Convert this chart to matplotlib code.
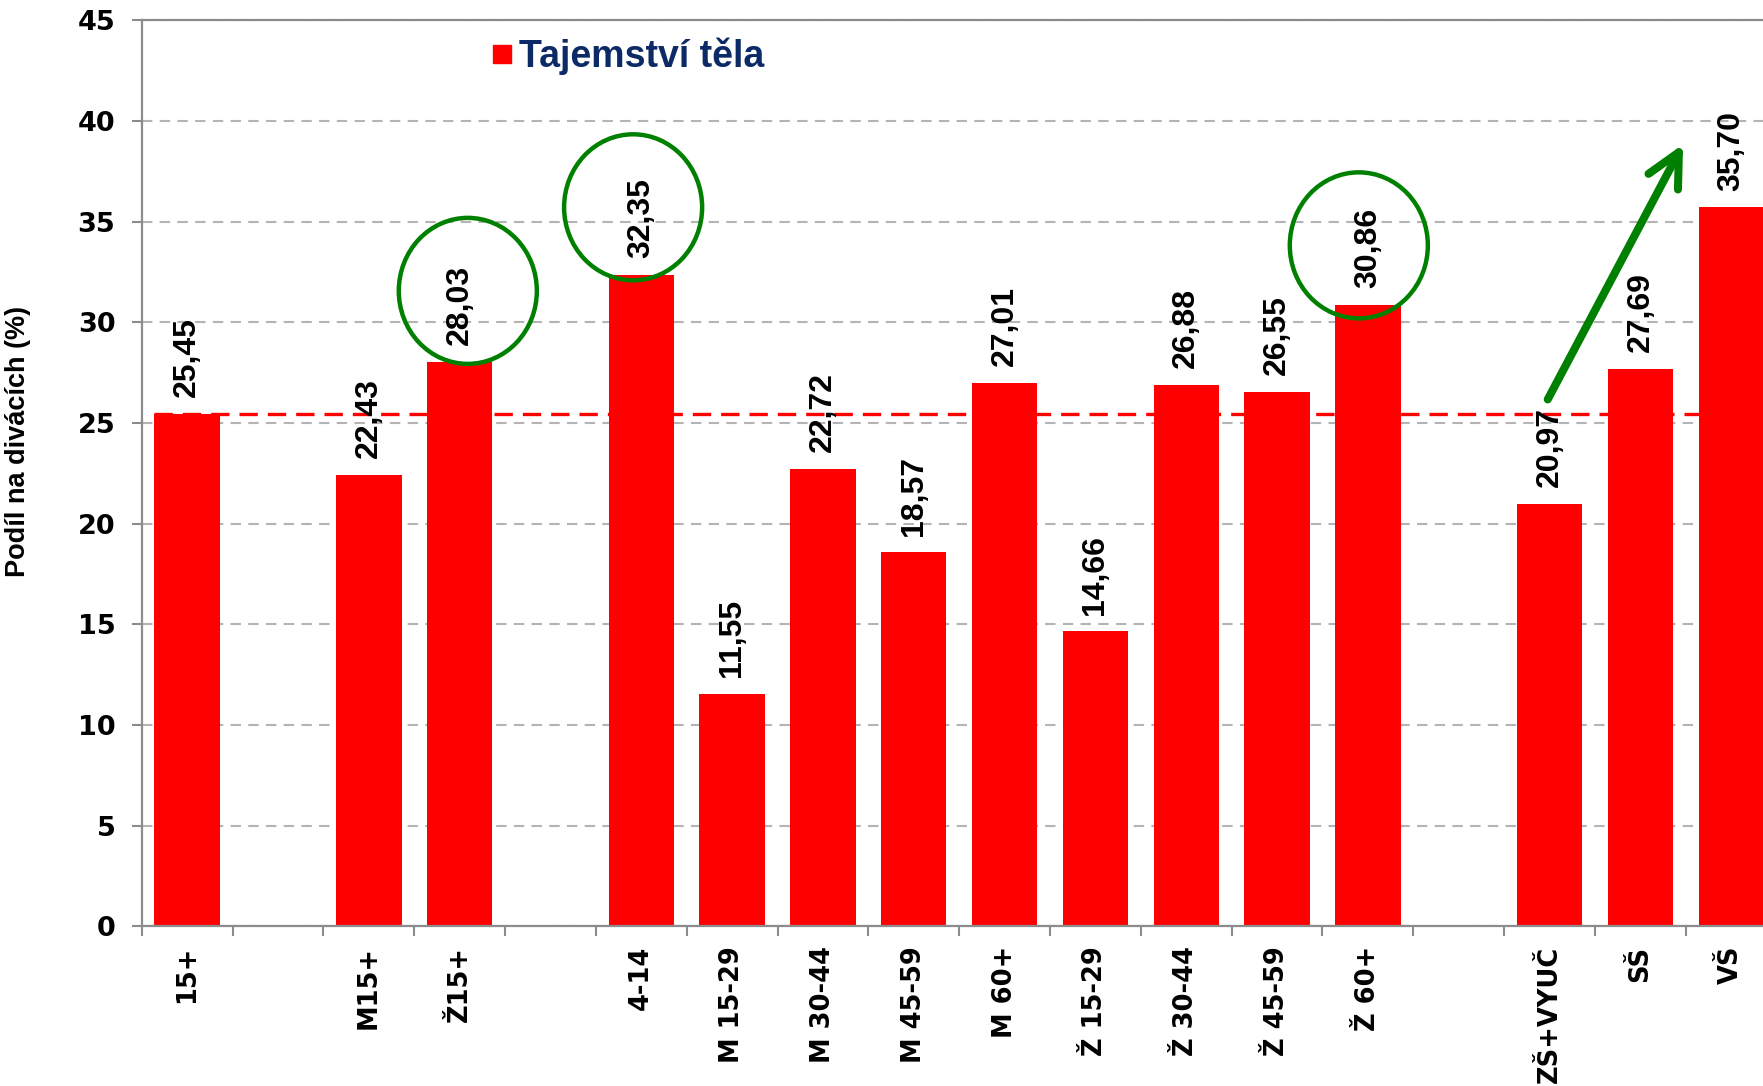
import matplotlib.pyplot as plt
from matplotlib.patches import Ellipse
from matplotlib.lines import Line2D

# -----------------------------
# data
# -----------------------------
categories = ['15+', '', 'M15+', 'Ž15+', '', '4-14', 'M 15-29', 'M 30-44',
              'M 45-59', 'M 60+', 'Ž 15-29', 'Ž 30-44', 'Ž 45-59', 'Ž 60+',
              '', 'ZŠ+VYUČ', 'SŠ', 'VŠ']
values = [25.45, None, 22.43, 28.03, None, 32.35, 11.55, 22.72,
          18.57, 27.01, 14.66, 26.88, 26.55, 30.86,
          None, 20.97, 27.69, 35.70]
series_name = 'Tajemství těla'
reference_value = 25.45          # 15+ level, red dashed line
circled = ['Ž15+', '4-14', 'Ž 60+']
yticks = list(range(0, 50, 5))

# -----------------------------
# figure
# -----------------------------
fig = plt.figure(figsize=(17.63, 10.86), dpi=100)
ax = fig.add_axes([0.0804, 0.1469, 0.9196, 0.8345])

xs = [i for i, v in enumerate(values) if v is not None]
hs = [v for v in values if v is not None]
ax.bar(xs, hs, width=0.72, color='#ff0000', zorder=2, label=series_name)

# grid + spines
ax.set_yticks(yticks)
ax.yaxis.grid(True, color='#b4b4b4', lw=1.5, linestyle=(0, (5, 3.5)), zorder=0)
ax.set_axisbelow(True)
for s in ['left', 'bottom', 'top']:
    ax.spines[s].set_color('#8c8c8c')
    ax.spines[s].set_linewidth(1.6)
ax.spines['right'].set_visible(False)

# ticks
ax.set_xticks(range(len(categories)))
ax.set_xticklabels(categories, rotation=90, fontsize=18.5, fontweight='bold',
                   family='DejaVu Sans', va='top')
ax.set_xticks([i - 0.5 for i in range(len(categories) + 1)], minor=True)
ax.tick_params(axis='x', which='major', length=0, pad=14)
ax.tick_params(axis='x', which='minor', length=7, width=1.5, color='#8c8c8c')
ax.tick_params(axis='y', length=7, width=1.5, color='#8c8c8c', pad=12)
for lab in ax.get_yticklabels():
    lab.set_fontsize(19.5)
    lab.set_fontweight('bold')

# limits after ticks (set_xticks would widen the view)
ax.set_xlim(-0.5, 17.35)
ax.set_ylim(0, 45)

ax.set_ylabel('Podíl na divácích (%)', fontsize=19.5, fontweight='bold',
              family='Liberation Sans')
ax.yaxis.set_label_coords(-0.0685, 0.535)

# value labels
for x, v in zip(xs, hs):
    ax.annotate(f'{v:.2f}'.replace('.', ','), (x, v), xytext=(0, 12),
                textcoords='offset points', rotation=90, ha='center', va='bottom',
                fontsize=23, fontweight='bold', family='Liberation Sans', zorder=4)

# reference line
ax.plot([-0.36, 17.35], [reference_value, reference_value], color='#ff0000',
        lw=2.4, linestyle=(0, (5.5, 3)), zorder=3)

# green circles around selected labels
circle_pos = {'Ž15+': (3.09, 31.56), '4-14': (4.91, 35.71), 'Ž 60+': (12.90, 33.82)}
for name in circled:
    cx, cy = circle_pos[name]
    ax.add_patch(Ellipse((cx, cy), 1.52, 7.25, fill=False, edgecolor='#008000',
                         lw=3.2, zorder=5))

# green arrow
ax.annotate('', xy=(16.47, 38.84), xytext=(14.98, 26.17),
            arrowprops=dict(arrowstyle='->,head_length=1.2,head_width=0.6',
                            lw=5.8, color='#008000', mutation_scale=20,
                            shrinkA=0, shrinkB=0, capstyle='round',
                            joinstyle='round'),
            zorder=5)

# legend
handle = Line2D([], [], marker='s', linestyle='none', color='#ff0000', markersize=12.5)
ax.legend([handle], [series_name], loc='center left',
          bbox_to_anchor=(0.2155, 0.9605), frameon=False, borderpad=0,
          borderaxespad=0, handletextpad=0.15, handlelength=0.6,
          prop={'family': 'Liberation Sans', 'weight': 'bold', 'size': 27},
          labelcolor='#0c2a66')

fig.savefig('out.png', dpi=100)
